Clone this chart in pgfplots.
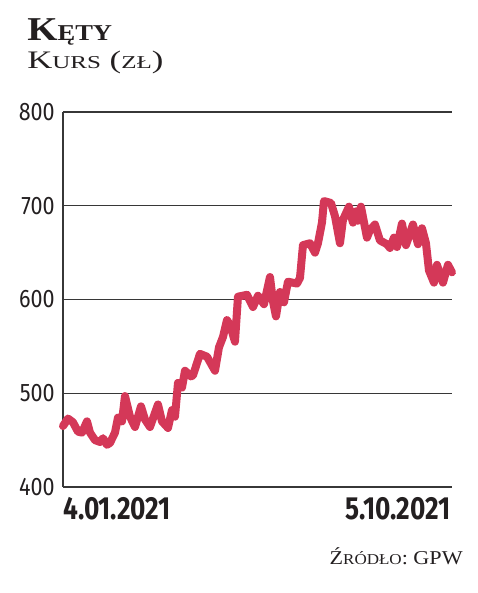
\documentclass[border=0pt]{standalone}
\usepackage{fontspec}
\usepackage{pgfplots}
\pgfplotsset{compat=1.18}
\newfontfamily\slab{Liberation Serif}[FakeStretch=1.17]
\newfontfamily\slabwide{Liberation Serif}[FakeStretch=1.38]
\newfontfamily\srcfont{Liberation Serif}[FakeStretch=1.13]
\newfontfamily\tickfont{Fira Sans}[FakeStretch=0.85]
\newfontfamily\datefont{Fira Sans}[FakeStretch=0.82]
\definecolor{kurs}{RGB}{212,56,88}
\definecolor{ink}{RGB}{35,31,32}
\definecolor{gridc}{RGB}{55,55,55}

\begin{document}
\begin{tikzpicture}
\begin{axis}[
  scale only axis,
  width=291.75pt, height=281.25pt,
  xmin=63, xmax=452,
  ymin=400, ymax=800,
  clip=false,
  axis x line=bottom, axis y line=left,
  axis line style={-, draw=gridc, line width=0.9pt},
  xtick=\empty,
  ytick={400,500,600,700,800},
  ymajorgrids,
  grid style={draw=gridc, line width=0.9pt},
  major tick length=0pt,
  /pgf/number format/assume math mode=true,
  yticklabel style={font=\tickfont\fontsize{19}{19}\selectfont, text=ink, anchor=east, inner sep=0pt, xshift=-6pt},
]
% kurs akcji (zł), x w pikselach osi
\addplot[kurs, line width=6pt, line join=round, line cap=round] coordinates {
(63,465)(68,473)(73,469)(78,459)(82,458)(87,470)(90,458)(95,450)(100,448)(103,452)
(107,445)(110,447)(115,458)(118,474)(122,470)(125,497)(130,475)(135,464)(141,486)(145,472)
(150,464)(158,488)(162,470)(168,463)(172,482)(175,475)(178,511)(182,506)(185,524)(191,518)
(193,519)(200,542)(207,539)(215,524)(219,549)(223,560)(227,578)(230,573)(235,555)(238,603)
(247,605)(253,592)(258,604)(264,595)(270,624)(273,598)(276,582)(280,608)(284,597)(288,619)
(297,617)(300,623)(303,658)(310,660)(315,650)(318,660)(322,682)(324,705)(331,703)(335,689)
(340,660)(343,685)(349,699)(353,682)(356,694)(358,684)(361,699)(367,666)(370,674)(375,680)
(380,663)(387,659)(390,655)(394,666)(397,656)(402,681)(406,658)(413,680)(418,659)(422,676)
(426,660)(429,631)(434,618)(437,637)(443,618)(448,637)(452,629)
};
\coordinate (bl) at (axis cs:0,286.9);
\coordinate (tr) at (axis cs:478,919.5);
\node[anchor=north west, inner sep=0pt, yshift=-7.5pt, text=ink, font=\datefont\bfseries\fontsize{24}{24}\selectfont] at (axis cs:63,400) {4.01.2021};
\node[anchor=north east, inner sep=0pt, yshift=-7.5pt, xshift=-1pt, text=ink, font=\datefont\bfseries\fontsize{24}{24}\selectfont] at (axis cs:452,400) {5.10.2021};
\node[anchor=base west, inner sep=0pt, text=ink] at (axis cs:27,876)
  {\slab\bfseries\fontsize{25}{25}\selectfont K{\fontsize{17}{17}\selectfont ĘTY}};
\node[anchor=base west, inner sep=0pt, text=ink] at (axis cs:27,846.5)
  {\slabwide\fontsize{18.9}{18.9}\selectfont K{\fontsize{13.6}{13.6}\selectfont URS} ({\fontsize{13.6}{13.6}\selectfont ZŁ})};
\node[anchor=base east, inner sep=0pt, text=ink] at (axis cs:463,316.8)
  {\srcfont\fontsize{14.7}{14.7}\selectfont Ź{\fontsize{11.3}{11.3}\selectfont RÓDŁO}: GPW};
\end{axis}
\pgfresetboundingbox
\path[use as bounding box] (bl) rectangle (tr);
\end{tikzpicture}
\end{document}
